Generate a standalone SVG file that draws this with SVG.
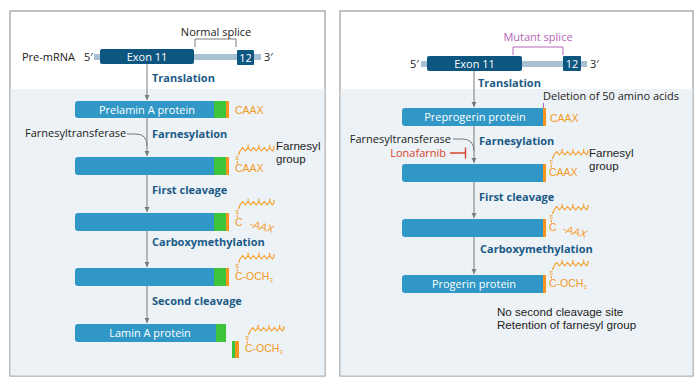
<svg xmlns="http://www.w3.org/2000/svg" width="700" height="388" viewBox="0 0 700 388">
<style>
text{font-family:"Open Sans","Liberation Sans",sans-serif;font-size:11px;fill:#222}
.step{font-weight:bold;fill:#1b5a86}
.w{fill:#fff}
.or{fill:#f39a1e;font-family:"Liberation Sans",sans-serif;font-size:10.5px}
.sub{font-size:6px}
.ml{font-family:"Liberation Sans",sans-serif;font-size:11.6px}
.conn{stroke:#7a7a7a;stroke-width:1;fill:none}
.bar{fill:#3097c6}
.exon{fill:#0d5680}
.rna{fill:#a9c2d3}
.gr{fill:#3cc43a}
.og{fill:#f7941d}
.panel{fill:#fff;stroke:#9a9a9a;stroke-width:1.2}
.band{fill:#edf2f6}
.sq{stroke:#f39a1e;stroke-width:1.1;fill:none;stroke-linejoin:round}
</style>
<defs>
<marker id="ah" viewBox="0 0 6 6" refX="5" refY="3" markerWidth="6" markerHeight="6" orient="auto" markerUnits="userSpaceOnUse">
<path d="M0,0.5 L5,3 L0,5.5 z" fill="#7a7a7a"/>
</marker>
<g id="farn">
<text x="0.4" y="-12" class="or" style="font-size:7px">s</text>
<path class="sq" d="M2.3,-11 V-8.5"/>
<path class="sq" d="M3.5,-17 L5,-21 l2.7,-3.5 l2.7,3.5 l2.7,-3.5 v-2.5 v2.5 l2.7,3.5 l2.7,-3.5 l2.7,3.5 l2.7,-3.5 v-2.5 v2.5 l2.7,3.5 l2.7,-3.5 l2.7,3.5 l2.7,-3.5 v-2.5 v2.5 l2.7,3.5 l1.5,-2 v-3"/>
</g>
</defs>

<!-- panels -->
<g id="panel-left">
<rect class="panel" x="10" y="11" width="315" height="365"/>
<rect class="band" x="10.6" y="89" width="313.8" height="286.4"/>
</g>
<g id="panel-right">
<rect class="panel" x="340" y="11" width="353" height="365"/>
<rect class="band" x="340.6" y="89" width="351.8" height="286.4"/>
</g>

<!-- connectors -->
<g id="connectors">
<path class="conn" d="M195,47 V39 H236 V47" stroke="#999"/>
<path class="conn" d="M147,64 V100" marker-end="url(#ah)"/>
<path class="conn" d="M147,118 V156" marker-end="url(#ah)"/>
<path class="conn" d="M127,134 H136 Q147,134 147,146"/>
<path class="conn" d="M147,175 V212" marker-end="url(#ah)"/>
<path class="conn" d="M147,231 V267" marker-end="url(#ah)"/>
<path class="conn" d="M147,286 V323" marker-end="url(#ah)"/>

<path d="M513,55 V47 H563 V55" fill="none" stroke="#b565b5" stroke-width="1"/>
<path d="M543.5,103 V108" fill="none" stroke="#b565b5" stroke-width="1"/>
<path class="conn" d="M474,71 V107" marker-end="url(#ah)"/>
<path class="conn" d="M474,126 V163" marker-end="url(#ah)"/>
<path class="conn" d="M453,139 H462 Q474,139 474,151"/>
<path d="M450,153 H465 M465.5,147.5 V158.5" fill="none" stroke="#d9442b" stroke-width="1.4"/>
<path class="conn" d="M474,182 V218" marker-end="url(#ah)"/>
<path class="conn" d="M474,237 V274" marker-end="url(#ah)"/>
</g>

<!-- LEFT -->
<g id="premrna-left">
<text x="22" y="61">Pre-mRNA</text>
<text x="84" y="61">5′</text>
<rect class="rna" x="94" y="54" width="167" height="6"/>
<rect class="exon" x="100" y="49" width="94" height="15" rx="2"/>
<text x="147" y="60.5" class="w" text-anchor="middle">Exon 11</text>
<rect class="exon" x="237" y="50" width="17" height="15" rx="1"/>
<text x="245.5" y="61.5" class="w" text-anchor="middle">12</text>
<text x="264" y="61">3′</text>
<text x="216" y="36" text-anchor="middle">Normal splice</text>
</g>
<text x="152" y="82" class="step">Translation</text>

<g id="prelamin">
<rect class="bar" x="75" y="101" width="154" height="17" rx="3"/>
<rect class="gr" x="214" y="101" width="12" height="17"/>
<rect class="og" x="226" y="101" width="3" height="17"/>
<text x="147" y="113.5" class="w" text-anchor="middle">Prelamin A protein</text>
<text x="235" y="114" class="or">CAAX</text>
</g>
<text x="25" y="137">Farnesyltransferase</text>
<text x="152" y="138" class="step">Farnesylation</text>

<g id="farnesylated-left">
<rect class="bar" x="75" y="157" width="154" height="18" rx="3"/>
<rect class="gr" x="214" y="157" width="12" height="18"/>
<rect class="og" x="226" y="157" width="3" height="18"/>
<use href="#farn" x="235" y="172"/>
<text x="235" y="172" class="or">CAAX</text>
<text x="276" y="150" class="ml">Farnesyl</text>
<text x="276" y="163" class="ml">group</text>
</g>
<text x="152" y="194" class="step">First cleavage</text>

<g id="cleaved-left">
<rect class="bar" x="75" y="213" width="154" height="18" rx="3"/>
<rect class="gr" x="214" y="213" width="12" height="18"/>
<rect class="og" x="226" y="213" width="3" height="18"/>
<use href="#farn" x="235" y="226"/>
<text x="235" y="226" class="or">C</text>
<text x="0" y="0" class="or" font-style="italic" transform="translate(249,227) rotate(14)">-AAX</text>
</g>
<text x="152" y="246" class="step">Carboxymethylation</text>

<g id="methylated-left">
<rect class="bar" x="75" y="268" width="154" height="18" rx="3"/>
<rect class="gr" x="214" y="268" width="12" height="18"/>
<rect class="og" x="226" y="268" width="3" height="18"/>
<use href="#farn" x="235" y="280"/>
<text x="235" y="280" class="or">C-OCH<tspan class="sub" dy="2">3</tspan></text>
</g>
<text x="152" y="305" class="step">Second cleavage</text>

<g id="laminA">
<rect class="bar" x="75" y="324" width="151" height="18" rx="3"/>
<rect class="gr" x="216" y="324" width="10" height="18"/>
<text x="150" y="337" class="w" text-anchor="middle">Lamin A protein</text>
<rect class="gr" x="232" y="341" width="3" height="17"/>
<rect class="og" x="235" y="341" width="4" height="17"/>
<use href="#farn" x="245" y="352"/>
<text x="245" y="352" class="or">C-OCH<tspan class="sub" dy="2">3</tspan></text>
</g>

<!-- RIGHT -->
<g id="premrna-right">
<text x="410" y="68">5′</text>
<rect class="rna" x="421" y="61" width="166" height="6"/>
<rect class="exon" x="427" y="56" width="95" height="15" rx="2"/>
<text x="474.5" y="67.5" class="w" text-anchor="middle">Exon 11</text>
<rect class="exon" x="563" y="56" width="18" height="15" rx="1"/>
<text x="572" y="67.5" class="w" text-anchor="middle">12</text>
<text x="590" y="68">3′</text>
<text x="538" y="41" text-anchor="middle" style="fill:#b565b5">Mutant splice</text>
</g>
<text x="478" y="87" class="step">Translation</text>

<g id="preprogerin">
<text x="543" y="100">Deletion of 50 amino acids</text>
<rect class="bar" x="402" y="108" width="144" height="18" rx="3"/>
<rect class="og" x="543" y="108" width="3" height="18"/>
<text x="475" y="121" class="w" text-anchor="middle">Preprogerin protein</text>
<text x="550" y="122" class="or">CAAX</text>
</g>
<text x="451" y="143" text-anchor="end">Farnesyltransferase</text>
<text x="446" y="157" text-anchor="end" style="fill:#d9442b">Lonafarnib</text>
<text x="479" y="145" class="step">Farnesylation</text>

<g id="farnesylated-right">
<rect class="bar" x="402" y="164" width="144" height="18" rx="3"/>
<rect class="og" x="543" y="164" width="3" height="18"/>
<use href="#farn" x="549" y="176"/>
<text x="549" y="176" class="or">CAAX</text>
<text x="589" y="156.5" class="ml">Farnesyl</text>
<text x="589" y="169.5" class="ml">group</text>
</g>
<text x="479" y="201" class="step">First cleavage</text>

<g id="cleaved-right">
<rect class="bar" x="402" y="219" width="144" height="18" rx="3"/>
<rect class="og" x="543" y="219" width="3" height="18"/>
<use href="#farn" x="549" y="231"/>
<text x="549" y="231" class="or">C</text>
<text x="0" y="0" class="or" font-style="italic" transform="translate(562,232) rotate(14)">-AAX</text>
</g>
<text x="480" y="253" class="step">Carboxymethylation</text>

<g id="progerin">
<rect class="bar" x="402" y="275" width="144" height="18" rx="3"/>
<rect class="og" x="543" y="275" width="3" height="18"/>
<text x="474" y="288" class="w" text-anchor="middle">Progerin protein</text>
<use href="#farn" x="549" y="287"/>
<text x="549" y="287" class="or">C-OCH<tspan class="sub" dy="2">3</tspan></text>
<text x="497" y="315.5" class="ml">No second cleavage site</text>
<text x="497" y="328.5" class="ml">Retention of farnesyl group</text>
</g>
</svg>
